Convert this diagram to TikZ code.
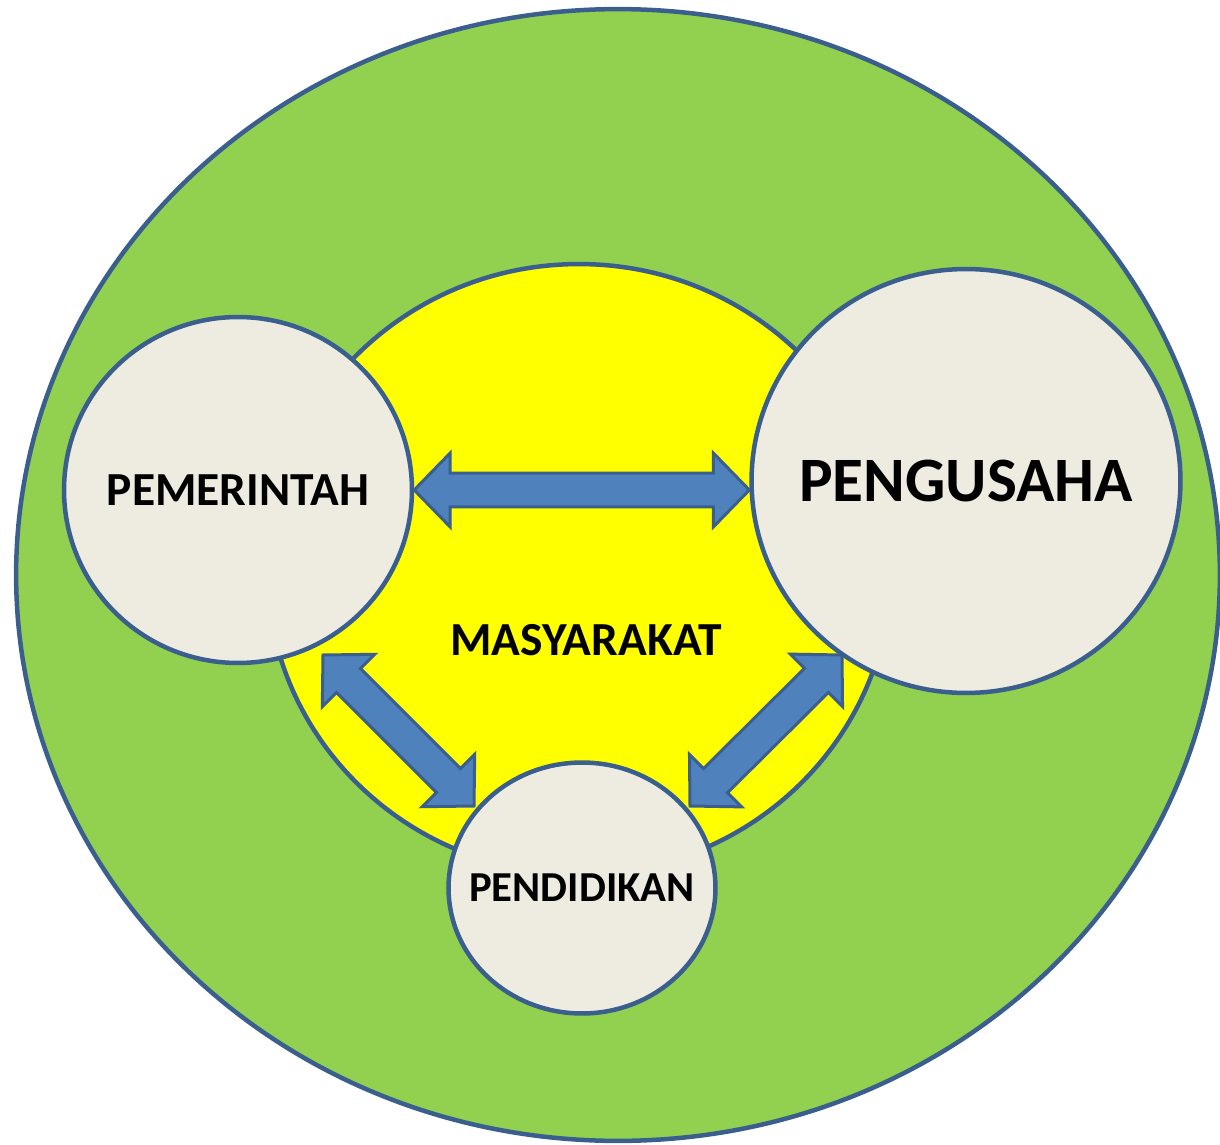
\documentclass[tikz,border=0pt]{standalone}
\usepackage{fontspec}
\setmainfont{Carlito}
\usetikzlibrary{shapes.geometric,calc}
\definecolor{edge}{HTML}{3A5F8E}
\definecolor{grn}{HTML}{92D050}
\definecolor{ylw}{HTML}{FFFF00}
\definecolor{tanfill}{HTML}{EEECE1}
\definecolor{arrfill}{HTML}{4F81BD}
\newcommand\dblarrow[2]{%
  \draw[dbl] (#1)
    -- ($(#1)!0.72cm!(#2)!0.74cm!90:(#2)$)
    -- ($(#1)!0.72cm!(#2)!0.34cm!90:(#2)$)
    -- ($(#2)!0.72cm!(#1)!0.34cm!-90:(#1)$)
    -- ($(#2)!0.72cm!(#1)!0.74cm!-90:(#1)$)
    -- (#2)
    -- ($(#2)!0.72cm!(#1)!0.74cm!90:(#1)$)
    -- ($(#2)!0.72cm!(#1)!0.34cm!90:(#1)$)
    -- ($(#1)!0.72cm!(#2)!0.34cm!-90:(#2)$)
    -- ($(#1)!0.72cm!(#2)!0.74cm!-90:(#2)$)
    -- cycle;}
\newcommand\zw[2][0cm]{\makebox[0pt]{\raisebox{#1}{#2}}}
\begin{document}
\begin{tikzpicture}[x=0.02cm,y=-0.02cm,
  blob/.style={ellipse, draw=edge, line width=0.09cm, inner sep=0pt},
  lbl/.style={font=\bfseries\fontsize{27}{30}\selectfont},
  dbl/.style={fill=arrfill, draw=edge, line width=0.06cm, line join=miter}]
\useasboundingbox (0,0) rectangle (1220,1145);
\node[blob, fill=grn, minimum width=24.08cm, minimum height=22.64cm] (outer) at (618,575) {};
\node[blob, fill=ylw, minimum width=12.48cm, minimum height=12.2cm] (core) at (579,569) {};
\node[blob, fill=tanfill, minimum width=6.96cm, minimum height=6.92cm, lbl] (pem) at (238,490) {\zw[-0.06cm]{PEMERINTAH}};
\node[blob, fill=tanfill, minimum width=8.58cm, minimum height=8.48cm, font=\bfseries\fontsize{36}{40}\selectfont] (peng) at (966,481) {\zw[-0.12cm]{PENGUSAHA}};
\node[blob, fill=tanfill, minimum width=5.34cm, minimum height=5.02cm, font=\bfseries\fontsize{24.3}{28}\selectfont] (pend) at (582,888) {\zw[-0.06cm]{PENDIDIKAN}};
\node[lbl] (masy) at (586,640) {MASYARAKAT};
\coordinate (h1a) at (pem.east);
\coordinate (h1b) at (peng.west |- pem.east);
\coordinate (d1a) at (323,655);
\coordinate (d1b) at (474,806);
\coordinate (d2a) at (842,655);
\coordinate (d2b) at (690,806);
\dblarrow{h1a}{h1b}
\dblarrow{d1a}{d1b}
\dblarrow{d2a}{d2b}
\end{tikzpicture}
\end{document}
